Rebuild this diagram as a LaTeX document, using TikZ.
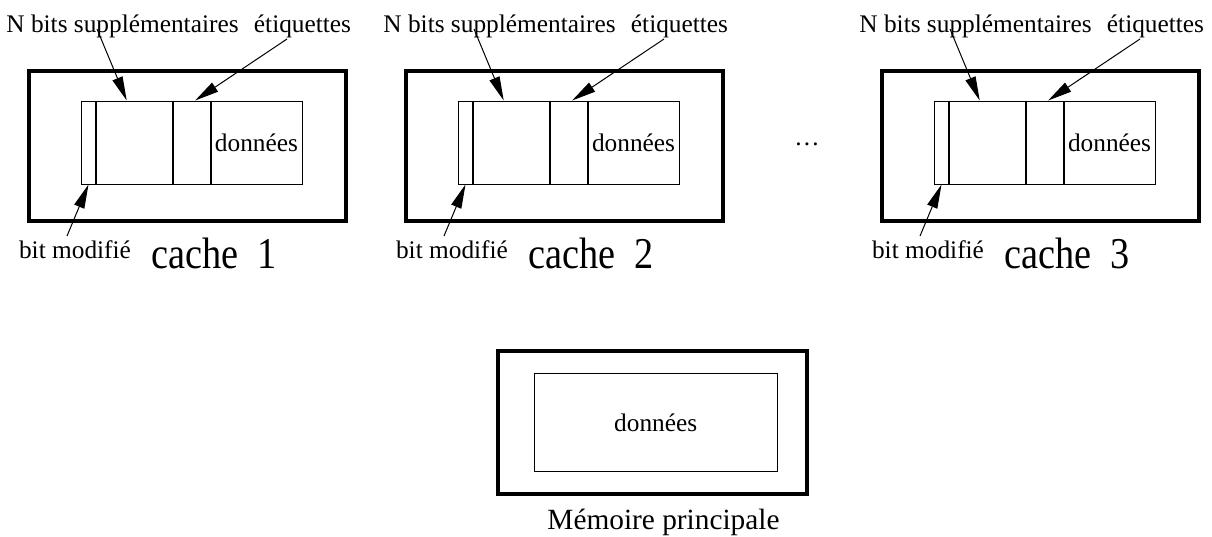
\documentclass[tikz,border=0pt]{standalone}
\usepackage{fontspec}
\setmainfont{Liberation Serif}
\newfontfamily\cachefont[FakeStretch=0.87]{Liberation Serif}
\usetikzlibrary{arrows.meta, calc}
\newcommand{\px}{0.75pt}
\newcommand{\lblsize}{\fontsize{19}{22}\selectfont}
\newcommand{\cachesize}{\cachefont\fontsize{33}{36}\selectfont}
\newcommand{\memsize}{\fontsize{22}{25}\selectfont}
\tikzset{
  cachebox/.style={draw, line width=3pt, inner sep=0pt},
  cell/.style={draw, line width=0.75pt, inner sep=0pt, minimum height=83*\px, font=\lblsize},
  divider/.style={line width=1.5pt},
  lbl/.style={inner sep=0pt, font=\lblsize},
  ptr/.style={-{Triangle[length=18pt,width=8pt]}, line width=0.75pt},
}

\begin{document}
\begin{tikzpicture}[x=\px, y=-\px]
  \useasboundingbox (0,0) rectangle (1212,536);
  % three caches, same layout, shifted to the right
  \foreach \k/\dx in {1/0, 2/377, 3/853} {
    \begin{scope}[xshift=\dx*\px]
      \node[cachebox, minimum width=316.5*\px, minimum height=150*\px] (c\k) at (187.25,145.5) {};
      % one cache line: bit, N bits, tag, data
      \node[cell, minimum width=15*\px] (c\k-bit) at (88.5,142.5) {};
      \node[cell, minimum width=77*\px] (c\k-nbits) at (134.5,142.5) {};
      \node[cell, minimum width=38*\px] (c\k-tag) at (192,142.5) {};
      \node[cell, minimum width=91*\px] (c\k-data) at (256.5,142.5) {données};
      \foreach \cname in {nbits, tag, data}
        \draw[divider] (c\k-\cname.north west) -- (c\k-\cname.south west);
      % labels and pointers
      \node[lbl, anchor=base] (c\k-nlab) at (122.5,32) {N bits supplémentaires};
      \node[lbl, anchor=base] (c\k-tlab) at (302.5,32) {étiquettes};
      \node[lbl, anchor=base] (c\k-blab) at (75,258) {bit modifié};
      \node[anchor=base, inner sep=0pt, font=\cachesize] (c\k-name) at (214,268) {cache\ \ \k};
      \draw[ptr] ([shift={(-25.5,-3)}]c\k-nlab.base) -- ($(c\k-nbits.north west)!0.4!(c\k-nbits.north east)$);
      \draw[ptr] ([shift={(-15.5,7)}]c\k-tlab.base) -- ($(c\k-tag.north west)!0.58!(c\k-tag.north east)$);
      \draw[ptr] ([shift={(-8,-22)}]c\k-blab.base) -- (c\k-bit.south);
    \end{scope}
  }
  \node[lbl] (dots) at (807,144) {\dots};
  % main memory
  \node[cachebox, minimum width=309.5*\px, minimum height=143.5*\px] (mem) at (652.25,422.25) {};
  \node[cell, minimum width=242.7*\px, minimum height=98.4*\px] (mem-data) at (655.7,422.5) {données};
  \node[anchor=base, inner sep=0pt, font=\memsize] (mem-name) at (663.5,529) {Mémoire principale};
\end{tikzpicture}
\end{document}
